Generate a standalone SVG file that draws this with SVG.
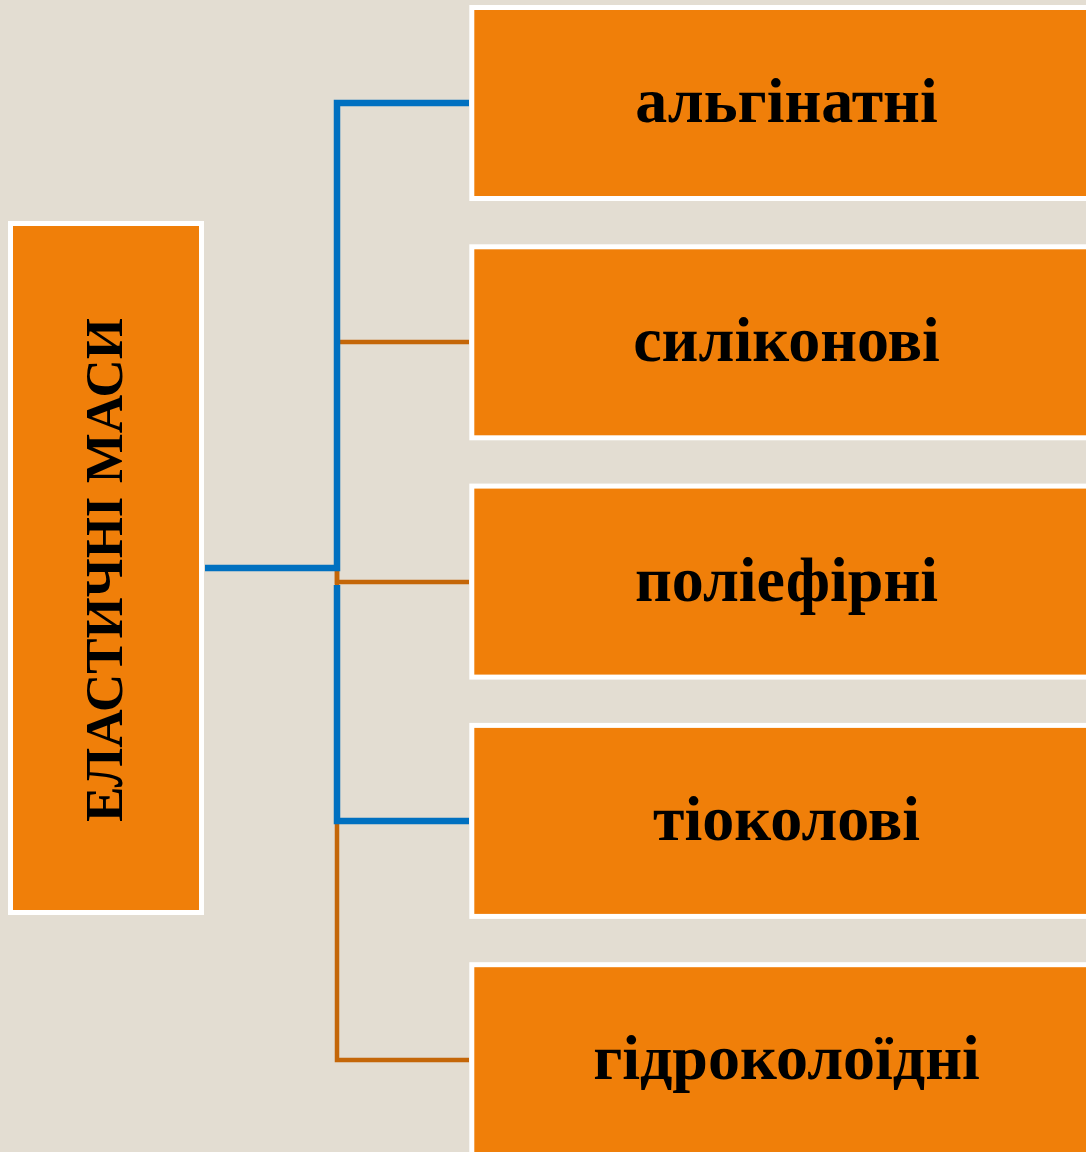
<svg xmlns="http://www.w3.org/2000/svg" width="1086" height="1152" viewBox="0 0 1086 1152">
<style>
.box{fill:#F07F09;stroke:#FFFFFF;stroke-width:5}
.lbl{font-family:"Liberation Serif","Times New Roman",serif;font-weight:bold;font-size:64px;fill:#000;text-anchor:middle}
.vlbl{font-family:"Liberation Serif","Times New Roman",serif;font-weight:bold;font-size:53px;fill:#000;text-anchor:middle}
.cb{fill:none;stroke:#0070C0;stroke-width:6.5}
.cr{fill:none;stroke:#C46608;stroke-width:4.5}
</style>
<rect width="1086" height="1152" fill="#E3DDD2"/>
<g id="connectors">
<path class="cr" d="M337 568 V342 H469"/>
<path class="cr" d="M337 568 V582 H469"/>
<path class="cr" d="M337 568 V1060 H469"/>
<path class="cb" d="M205 568 H337 V103 H469"/>
<path class="cb" d="M337 585 V821 H469"/>
</g>
<g id="root">
<rect class="box" x="10.5" y="223.5" width="191" height="689"/>
<text class="vlbl" transform="translate(122,570) rotate(-90)">ЕЛАСТИЧНІ МАСИ</text>
</g>
<g id="n1">
<rect class="box" x="471.8" y="7.5" width="640" height="191"/>
<text class="lbl" x="786.5" y="122">альгінатні</text>
</g>
<g id="n2">
<rect class="box" x="471.8" y="246.8" width="640" height="191"/>
<text class="lbl" x="786.5" y="361">силіконові</text>
</g>
<g id="n3">
<rect class="box" x="471.8" y="486.1" width="640" height="191"/>
<text class="lbl" x="786.5" y="601">поліефірні</text>
</g>
<g id="n4">
<rect class="box" x="471.8" y="725.4" width="640" height="191"/>
<text class="lbl" x="786.5" y="840">тіоколові</text>
</g>
<g id="n5">
<rect class="box" x="471.8" y="964.7" width="640" height="191"/>
<text class="lbl" x="786.5" y="1079">гідроколоїдні</text>
</g>
</svg>
